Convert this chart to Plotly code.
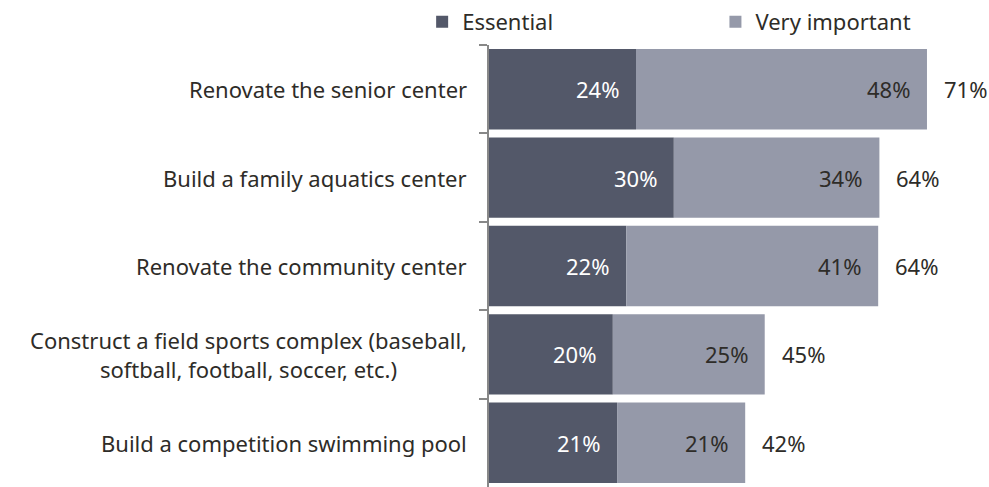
import plotly.graph_objects as go

categories = [
    "Renovate the senior center",
    "Build a family aquatics center",
    "Renovate the community center",
    "Construct a field sports complex (baseball,<br>softball, football, soccer, etc.)",
    "Build a competition swimming pool",
]
essential = [24.1, 30.3, 22.5, 20.3, 21.0]
very_important = [47.7, 33.7, 41.3, 24.9, 21.0]
essential_labels = ["24%", "30%", "22%", "20%", "21%"]
very_labels = ["48%", "34%", "41%", "25%", "21%"]
total_labels = ["71%", "64%", "64%", "45%", "42%"]

DARK = "#535869"
LIGHT = "#9599a9"
TEXT = "#2e2c28"
FONT = "Noto Sans"
FS = 22

fig = go.Figure()
fig.add_trace(go.Bar(y=categories, x=essential, orientation="h", name="Essential",
                     marker=dict(color=DARK, line=dict(width=0)), legend="legend"))
fig.add_trace(go.Bar(y=categories, x=very_important, orientation="h", name="Very important",
                     base=essential, marker=dict(color=LIGHT, line=dict(width=0)), legend="legend2"))

ann = []
for c, e, v, el, vl, tl in zip(categories, essential, very_important, essential_labels, very_labels, total_labels):
    ann.append(dict(x=e, y=c, text=el, showarrow=False, xanchor="right", xshift=-15,
                    font=dict(color="white", size=FS, family=FONT)))
    ann.append(dict(x=e + v, y=c, text=vl, showarrow=False, xanchor="right", xshift=-15,
                    font=dict(color=TEXT, size=FS, family=FONT)))
    ann.append(dict(x=e + v, y=c, text=tl, showarrow=False, xanchor="left", xshift=15,
                    font=dict(color=TEXT, size=FS, family=FONT)))
    ann.append(dict(x=0, xref="paper", y=c, text=c, showarrow=False, xanchor="right", xshift=-20,
                    align="center", font=dict(color=TEXT, size=FS, family=FONT)))

leg_common = dict(orientation="h", yanchor="middle", y=1.052, xanchor="left",
                  font=dict(size=FS, color=TEXT, family=FONT), itemclick=False,
                  bgcolor="rgba(0,0,0,0)")

fig.update_layout(
    width=989, height=487,
    margin=dict(l=489, r=12, t=45, b=0, autoexpand=False),
    barmode="overlay",
    bargap=0.09,
    plot_bgcolor="white", paper_bgcolor="white",
    font=dict(family=FONT, size=FS, color=TEXT),
    showlegend=True,
    legend=dict(x=-0.137, **leg_common),
    legend2=dict(x=0.464, **leg_common),
    annotations=ann,
    xaxis=dict(range=[0, 80], visible=False, fixedrange=True),
    yaxis=dict(autorange="reversed", showticklabels=False, showline=True, linecolor="#888888",
               linewidth=2, ticks="outside", tickson="boundaries", ticklen=8, tickcolor="#888888",
               tickwidth=2, showgrid=False, zeroline=False, fixedrange=True),
)
fig.write_html("out.html", config={"displayModeBar": False},
               post_script="document.body.style.margin='0';document.body.style.overflow='hidden';")
